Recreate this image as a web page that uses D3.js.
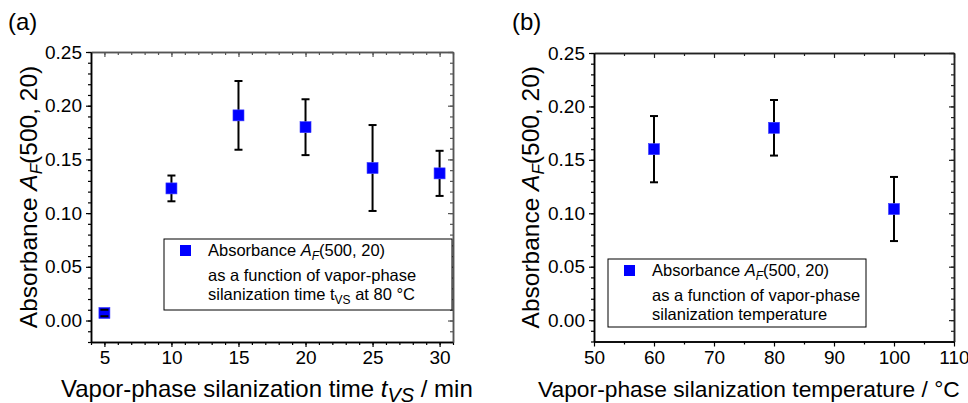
<!DOCTYPE html>
<html lang="en">
<head>
    <meta charset="utf-8">
    <title>Absorbance vs silanization</title>
    <script src="https://d3js.org/d3.v7.min.js" charset="utf-8"></script>
    <style>
        body { margin: 0; background: #fff; }
        text { font-family: "Liberation Sans", Arial, sans-serif; fill: #000; }
    </style>
</head>
<body>
<script>

// panel (a): vapor-phase silanization time
var timeMin = [5, 10, 15, 20, 25, 30]
var absTime = [0.007, 0.123, 0.191, 0.180, 0.142, 0.137]
var errTime = [0.003, 0.012, 0.032, 0.026, 0.040, 0.021]
var timeTicks = [5, 10, 15, 20, 25, 30]

// panel (b): vapor-phase silanization temperature
var tempC = [60, 80, 100]
var absTemp = [0.160, 0.180, 0.104]
var errTemp = [0.031, 0.026, 0.030]
var tempTicks = [50, 60, 70, 80, 90, 100, 110]

var yTicks = [0.00, 0.05, 0.10, 0.15, 0.20, 0.25]

var w = 968, h = 403

var svg = d3.select("body").append("svg").attr("width", w).attr("height", h)

function panel(opt) {
    var x = d3.scaleLinear().domain(opt.xDomain).range([opt.left, opt.right])
    var y = d3.scaleLinear().domain([-0.02, 0.25]).range([opt.bottom, opt.top])
    var g = svg.append("g")

    var yMinor = d3.range(-0.02, 0.2501, 0.01).map(function (v) { return +v.toFixed(2) })

    function styleAxis(sel, col) {
        sel.select(".domain").attr("stroke", col).attr("stroke-width", 1.5)
        sel.selectAll(".tick line").attr("stroke", col).attr("stroke-width", 1.2)
        sel.selectAll("text").style("font-size", "19px").style("font-family", "Liberation Sans, Arial, sans-serif")
    }

    // minor ticks first
    g.append("g").attr("transform", "translate(0," + opt.bottom + ")")
        .call(d3.axisBottom(x).tickValues(opt.xMinor).tickSize(3).tickFormat("").tickSizeOuter(0))
        .call(styleAxis, "#000")
    g.append("g").attr("transform", "translate(0," + opt.top + ")")
        .call(d3.axisTop(x).tickValues(opt.xMinor).tickSize(-3).tickFormat("").tickSizeOuter(0))
        .call(styleAxis, opt.frame)
    g.append("g").attr("transform", "translate(" + opt.left + ",0)")
        .call(d3.axisLeft(y).tickValues(yMinor).tickSize(3).tickFormat("").tickSizeOuter(0))
        .call(styleAxis, "#000")
    g.append("g").attr("transform", "translate(" + opt.right + ",0)")
        .call(d3.axisRight(y).tickValues(yMinor).tickSize(-3).tickFormat("").tickSizeOuter(0))
        .call(styleAxis, opt.frame)

    // major ticks
    g.append("g").attr("transform", "translate(0," + opt.bottom + ")")
        .call(d3.axisBottom(x).tickValues(opt.xTicks).tickSize(5).tickPadding(4).tickSizeOuter(0))
        .call(styleAxis, "#000")
    g.append("g").attr("transform", "translate(0," + opt.top + ")")
        .call(d3.axisTop(x).tickValues(opt.xTicks).tickSize(-5).tickFormat("").tickSizeOuter(0))
        .call(styleAxis, opt.frame)
    g.append("g").attr("transform", "translate(" + opt.left + ",0)")
        .call(d3.axisLeft(y).tickValues(yTicks).tickSize(5).tickPadding(4).tickFormat(d3.format(".2f")).tickSizeOuter(0))
        .call(styleAxis, "#000")
    g.append("g").attr("transform", "translate(" + opt.right + ",0)")
        .call(d3.axisRight(y).tickValues(yTicks).tickSize(-5).tickFormat("").tickSizeOuter(0))
        .call(styleAxis, opt.frame)

    var pts = opt.xs.map(function (v, i) { return {x: v, y: opt.ys[i], e: opt.es[i]} })
    var half = 5.5

    // error bar stems, outside the marker
    pts.forEach(function (d) {
        var cx = x(d.x), cy = y(d.y), yt = y(d.y + d.e), yb = y(d.y - d.e)
        if (yt < cy - half) g.append("line").attr("x1", cx).attr("x2", cx).attr("y1", yt).attr("y2", cy - half).attr("stroke", "#000").attr("stroke-width", 2)
        if (yb > cy + half) g.append("line").attr("x1", cx).attr("x2", cx).attr("y1", cy + half).attr("y2", yb).attr("stroke", "#000").attr("stroke-width", 2)
    })

    g.selectAll("rect.pt").data(pts).enter().append("rect").attr("class", "pt")
        .attr("x", function (d) { return x(d.x) - half })
        .attr("y", function (d) { return y(d.y) - half })
        .attr("width", half * 2).attr("height", half * 2)
        .attr("fill", "#0000ff").attr("stroke", "#3a3aff").attr("stroke-width", 0.6)

    // caps
    pts.forEach(function (d) {
        [d.y + d.e, d.y - d.e].forEach(function (v) {
            g.append("line").attr("x1", x(d.x) - 4).attr("x2", x(d.x) + 4)
                .attr("y1", y(v)).attr("y2", y(v)).attr("stroke", "#000").attr("stroke-width", 2)
        })
    })

    // panel letter
    svg.append("text").attr("x", opt.letterX).attr("y", 30).style("font-size", "24px").text(opt.letter)

    // y title
    var yt = svg.append("text")
        .attr("transform", "translate(" + opt.yTitleX + "," + ((opt.top + opt.bottom) / 2) + ") rotate(-90)")
        .attr("text-anchor", "middle").style("font-size", "24.5px")
    yt.append("tspan").text("Absorbance ")
    yt.append("tspan").style("font-style", "italic").text("A")
    yt.append("tspan").style("font-style", "italic").style("font-size", "17px").attr("dy", 5).text("F")
    yt.append("tspan").attr("dy", -5).text("(500, 20)")

    // x title
    var xt = svg.append("text").attr("x", opt.xTitleX).attr("y", 397).style("font-size", opt.xTitleSize)
    opt.xTitle(xt)

    // legend
    var lg = svg.append("g")
    lg.append("rect").attr("x", opt.leg[0]).attr("y", opt.leg[1]).attr("width", opt.leg[2]).attr("height", opt.leg[3])
        .attr("fill", "#fff").attr("stroke", "#000").attr("stroke-width", 1)
    lg.append("rect").attr("x", opt.leg[0] + 16).attr("y", opt.leg[1] + 6).attr("width", 11).attr("height", 11).attr("fill", "#0000ff")
    var tx = opt.leg[0] + 44
    var l1 = lg.append("text").attr("x", tx).attr("y", opt.leg[1] + 17).style("font-size", "16.5px")
    l1.append("tspan").text("Absorbance ")
    l1.append("tspan").style("font-style", "italic").text("A")
    l1.append("tspan").style("font-style", "italic").style("font-size", "12px").attr("dy", 4).text("F")
    l1.append("tspan").attr("dy", -4).text("(500, 20)")
    lg.append("text").attr("x", tx).attr("y", opt.leg[1] + 42).style("font-size", "16.5px").text("as a function of vapor-phase")
    var l3 = lg.append("text").attr("x", tx).attr("y", opt.leg[1] + 61).style("font-size", "16.5px")
    opt.legLast(l3)
}

panel({
    left: 91, right: 453, top: 52, bottom: 342,
    xDomain: [4, 31], xTicks: timeTicks, xMinor: d3.range(4, 32, 1),
    xs: timeMin, ys: absTime, es: errTime,
    frame: "#555", letter: "(a)", letterX: 8, yTitleX: 37, xTitleX: 61, xTitleSize: "24px",
    leg: [164, 239, 288, 71],
    xTitle: function (t) {
        t.append("tspan").text("Vapor-phase silanization time ")
        t.append("tspan").style("font-style", "italic").text("t")
        t.append("tspan").style("font-style", "italic").style("font-size", "20px").attr("dy", 5).text("VS")
        t.append("tspan").attr("dy", -5).text(" / min")
    },
    legLast: function (t) {
        t.append("tspan").text("silanization time t")
        t.append("tspan").style("font-size", "12px").attr("dy", 4).text("VS")
        t.append("tspan").attr("dy", -4).text(" at 80 °C")
    }
})

panel({
    left: 594, right: 954, top: 53, bottom: 341.5,
    xDomain: [50, 110], xTicks: tempTicks, xMinor: [55, 65, 75, 85, 95, 105],
    xs: tempC, ys: absTemp, es: errTemp,
    frame: "#222", letter: "(b)", letterX: 512, yTitleX: 539, xTitleX: 538, xTitleSize: "22.8px",
    leg: [608, 259, 258, 68],
    xTitle: function (t) {
        t.text("Vapor-phase silanization temperature / °C")
    },
    legLast: function (t) {
        t.text("silanization temperature")
    }
})

</script>
</body>
</html>
